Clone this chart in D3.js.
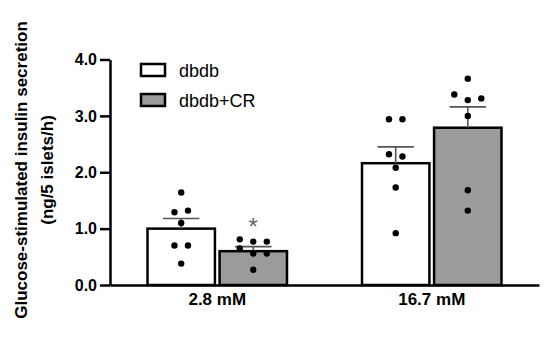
<!DOCTYPE html>
<html>
<head>
<meta charset="utf-8">
<script src="https://cdn.jsdelivr.net/npm/d3@7"></script>
<style>
  body { margin: 0; background: #fff; }
  text { font-family: "Liberation Sans", Arial, sans-serif; }
</style>
</head>
<body>
<div id="chart"></div>
<script>
const groups = ['2.8 mM', '16.7 mM'];
const series = ['dbdb', 'dbdb+CR'];
const meanDbdb = [1.00, 2.16];
const meanCR = [0.60, 2.79];
const semDbdb = [0.18, 0.29];
const semCR = [0.08, 0.37];
// individual islets, listed top to bottom (left to right within a row)
const pointsDbdb = [
    [1.64, 1.29, 1.32, 1.10, 0.70, 0.70, 0.38],
    [2.94, 2.94, 2.32, 2.28, 2.08, 1.73, 0.92]
];
const pointsCR = [
    [0.81, 0.77, 0.77, 0.65, 0.56, 0.56, 0.27],
    [3.66, 3.38, 3.28, 3.31, 3.00, 1.68, 1.32]
];
const yTicks = [0, 1, 2, 3, 4];
const signif = [{g: 0, s: 1, mark: '*'}];

const W = 550, H = 340;
const fills = ['#ffffff', '#9b9b9b'];

const svg = d3.select('#chart')
    .append('svg')
    .attr('width', W)
    .attr('height', H);

const y = d3.scaleLinear().domain([0, 4]).range([285, 59.5]);
const x0 = d3.scaleBand().domain(groups).range([110, 539])
    .paddingInner(0.338).paddingOuter(0.169);
const x1 = d3.scaleBand().domain(series).range([0, x0.bandwidth()]).paddingInner(0.03);

const bars = [];
groups.forEach((g, i) => {
    bars.push({g: g, gi: i, s: series[0], si: 0, mean: meanDbdb[i], sem: semDbdb[i], pts: pointsDbdb[i]});
    bars.push({g: g, gi: i, s: series[1], si: 1, mean: meanCR[i], sem: semCR[i], pts: pointsCR[i]});
});

// bars
svg.selectAll('rect.bar')
    .data(bars)
    .enter()
    .append('rect')
    .attr('class', 'bar')
    .attr('x', d => x0(d.g) + x1(d.s) + 1.25)
    .attr('width', x1.bandwidth() - 2.5)
    .attr('y', d => y(d.mean))
    .attr('height', d => y(0) - y(d.mean))
    .attr('fill', d => fills[d.si])
    .attr('stroke', '#000')
    .attr('stroke-width', 2.5);

// error bars (upper SEM only)
const capW = x1.bandwidth() * 0.52;
const eb = svg.selectAll('g.err')
    .data(bars)
    .enter()
    .append('g')
    .attr('class', 'err')
    .attr('stroke', '#555')
    .attr('stroke-width', 1.6);
eb.append('line')
    .attr('x1', d => x0(d.g) + x1(d.s) + x1.bandwidth() / 2)
    .attr('x2', d => x0(d.g) + x1(d.s) + x1.bandwidth() / 2)
    .attr('y1', d => y(d.mean))
    .attr('y2', d => y(d.mean + d.sem));
eb.append('line')
    .attr('x1', d => x0(d.g) + x1(d.s) + x1.bandwidth() / 2 - capW / 2)
    .attr('x2', d => x0(d.g) + x1(d.s) + x1.bandwidth() / 2 + capW / 2)
    .attr('y1', d => y(d.mean + d.sem))
    .attr('y2', d => y(d.mean + d.sem));

// dots, spread in rows when values are close
const step = 13.5;
function swarm(pts) {
    const rows = [];
    pts.forEach(v => {
        const r = rows[rows.length - 1];
        if (r && Math.abs(y(v) - y(r[0])) < 8) r.push(v);
        else rows.push([v]);
    });
    const out = [];
    rows.forEach(r => r.forEach((v, i) => out.push({v: v, dx: (i - (r.length - 1) / 2) * step})));
    return out;
}
bars.forEach(b => {
    const cx = x0(b.g) + x1(b.s) + x1.bandwidth() / 2;
    svg.append('g')
        .selectAll('circle')
        .data(swarm(b.pts))
        .enter()
        .append('circle')
        .attr('cx', d => cx + d.dx)
        .attr('cy', d => y(d.v))
        .attr('r', 3.2)
        .attr('fill', '#000');
});

// significance
signif.forEach(d => {
    const b = bars.find(e => e.gi === d.g && e.si === d.s);
    svg.append('text')
        .attr('x', x0(b.g) + x1(b.s) + x1.bandwidth() / 2)
        .attr('y', y(d3.max(b.pts)) - 4)
        .attr('text-anchor', 'middle')
        .attr('font-size', 24)
        .attr('fill', '#666')
        .text(d.mark);
});

// y axis
const yAxis = svg.append('g')
    .attr('transform', 'translate(110,0)')
    .call(d3.axisLeft(y).tickValues(yTicks).tickFormat(d3.format('.1f')).tickSize(10).tickSizeOuter(0).tickPadding(3));
yAxis.select('.domain').attr('stroke', '#000').attr('stroke-width', 2.5);
yAxis.selectAll('.tick line').attr('stroke', '#000').attr('stroke-width', 2.5);
yAxis.selectAll('.tick text')
    .attr('font-family', '"Liberation Sans", Arial, sans-serif')
    .attr('font-size', 16)
    .attr('font-weight', 'bold')
    .attr('fill', '#000');

// x axis
const xAxis = svg.append('g')
    .attr('transform', `translate(0,${y(0)})`)
    .call(d3.axisBottom(x0).tickSize(0).tickSizeOuter(0).tickPadding(8));
xAxis.select('.domain').attr('stroke', '#000').attr('stroke-width', 2.5);
xAxis.selectAll('.tick text')
    .attr('font-family', '"Liberation Sans", Arial, sans-serif')
    .attr('font-size', 17)
    .attr('font-weight', 'bold')
    .attr('fill', '#000');

// y title
const title = svg.append('text')
    .attr('transform', 'translate(27,170) rotate(-90)')
    .attr('text-anchor', 'middle')
    .attr('font-size', 17)
    .attr('font-weight', 'bold');
title.append('tspan').attr('x', 0).attr('y', 0).text('Glucose-stimulated insulin secretion');
title.append('tspan').attr('x', 0).attr('y', 26).text('(ng/5 islets/h)');

// legend
const legend = svg.selectAll('g.legend')
    .data(series)
    .enter()
    .append('g')
    .attr('class', 'legend')
    .attr('transform', (d, i) => `translate(141,${64 + i * 30})`);
legend.append('rect')
    .attr('width', 24)
    .attr('height', 12)
    .attr('fill', (d, i) => fills[i])
    .attr('stroke', '#000')
    .attr('stroke-width', 2.5);
legend.append('text')
    .attr('x', 38)
    .attr('y', 12.5)
    .attr('font-size', 18)
    .text(d => d);
</script>
</body>
</html>
